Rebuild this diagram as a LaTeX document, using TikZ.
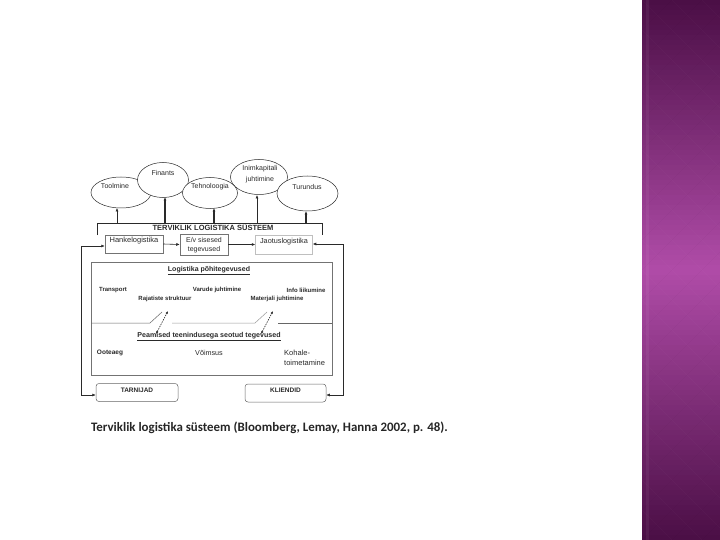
\documentclass[tikz,border=0pt]{standalone}
\usepackage{fontspec}
\setmainfont{Liberation Sans}
\newfontfamily\capfont{Carlito}
\usetikzlibrary{arrows.meta,shapes.geometric}
\definecolor{pTop}{HTML}{4A0E45}
\definecolor{pMid}{HTML}{B04CA8}
\definecolor{ink}{HTML}{2A2A2A}
\begin{document}
\begin{tikzpicture}[x=1pt,y=-1pt,
  ell/.style={draw=ink,fill=white,ellipse,line width=0.5pt,inner sep=0pt,outer sep=0pt},
  lbl/.style={font=\fontsize{7}{8}\selectfont,text=ink,inner sep=0pt,align=center},
  blbl/.style={font=\fontsize{6}{7}\selectfont\bfseries,text=ink,inner sep=0pt},
  rlbl/.style={font=\fontsize{7.2}{8}\selectfont,text=ink,inner sep=0pt,align=left},
  hd/.style={font=\fontsize{7}{8}\selectfont\bfseries,text=ink,inner sep=0pt},
  box/.style={draw=black!55,line width=0.5pt,inner sep=0pt},
  rbox/.style={draw=black!60,line width=0.5pt,rounded corners=3pt,inner sep=0pt},
  arr/.style={draw=ink,line width=0.6pt,-{Latex[length=3.5pt,width=3pt]}},
  tarr/.style={draw=ink,line width=1.1pt,-{Latex[length=3.5pt,width=3pt]}},
  darr/.style={draw=ink,line width=0.6pt,dash pattern=on 1.5pt off 1pt,{Latex[length=3pt,width=2.5pt]}-{Latex[length=3pt,width=2.5pt]}},
  thin/.style={draw=black!60,line width=0.5pt}]
% background
\fill[white] (0,0) rectangle (720,540);
\useasboundingbox (0,0) rectangle (720,540);
% purple band
\foreach \r in {0,...,107}{
  \pgfmathsetmacro{\tt}{100*(1-abs(\r*5+2.5-270)/270)}
  \fill[pMid!\tt!pTop] (642,\r*5) rectangle (720,\r*5+5.4);
}
\begin{scope}
\clip (642,0) rectangle (720,540);
\foreach \k in {-10,...,30}{
  \draw[white,opacity=0.025,line width=0.6pt] (642+\k*30-300,0) -- ++(600,600);
  \draw[black,opacity=0.025,line width=0.6pt] (642+\k*30-300,600) -- ++(600,-600);
}
\fill[white,opacity=0.05] (646,0) rectangle (649,540);
\end{scope}
% ellipses
\node[ell,minimum width=60,minimum height=31] (e1) at (121,192.5) {};
\node[ell,minimum width=51,minimum height=35] (e2) at (163,180) {};
\node[ell,minimum width=57,minimum height=35] (e4) at (259,177) {};
\node[ell,minimum width=55,minimum height=31] (e3) at (210,193) {};
\node[ell,minimum width=61,minimum height=35] (e5) at (307.5,193.5) {};
\node[lbl] (t1) at (115,186) {Toolmine};
\node[lbl] (t2) at (163,173) {Finants};
\node[lbl] (t3) at (210,187) {Tehnoloogia};
\node[lbl,font=\fontsize{7}{11.5}\selectfont] (t4) at (260,174) {Inimkapitali\\juhtimine};
\node[lbl] (t5) at (307,187) {Turundus};
% system bracket
\coordinate (sl) at (97,235);
\coordinate (stl) at (97,223);
\coordinate (str) at (322,223);
\coordinate (sr) at (322,235);
\draw[thin,draw=ink] (sl) -- (stl) -- (str) -- (sr);
\node[font=\fontsize{7.5}{9}\selectfont\bfseries,text=ink,inner sep=0pt] (sys) at (213,227.5) {TERVIKLIK LOGISTIKA SÜSTEEM};
% arrows to ellipses
\coordinate (a1) at (117,223);
\coordinate (a2) at (165,223);
\coordinate (a3) at (214,223);
\coordinate (a4) at (257,223);
\coordinate (a5) at (306,223);
\draw[arr] (a1) -- (117,208);
\draw[tarr] (a2) -- (165,197);
\draw[tarr] (a3) -- (214,208);
\draw[arr] (a4) -- (257,195);
\draw[tarr] (a5) -- (306,211);
% inner boxes
\node[box,minimum width=58,minimum height=18] (hanke) at (134,244) {};
\node[lbl,font=\fontsize{7.5}{8}\selectfont] (hanket) at (134,241) {Hankelogistika};
\node[box,minimum width=48,minimum height=21] (ev) at (204,244.5) {};
\node[lbl,font=\fontsize{7}{9.5}\selectfont] (evt) at (204,245) {E/v sisesed\\tegevused};
\node[box,draw=black!25,minimum width=57,minimum height=19] (jaot) at (284,244.5) {};
\node[lbl,font=\fontsize{7.3}{8}\selectfont] (jaott) at (284,242) {Jaotuslogistika};
\draw[arr] (hanke.east) -- (ev.west);
\draw[arr] (ev.east) -- (jaot.west);
% big box
\node[box,minimum width=241,minimum height=113,anchor=north west] (big) at (91,262) {};
\node[hd] (h1) at (209,270.5) {\underline{Logistika põhitegevused}};
\node[blbl] (l1) at (113,290) {Transport};
\node[blbl] (l2) at (217,290) {Varude juhtimine};
\node[blbl] (l3) at (306,290) {Info liikumine};
\node[blbl] (l4) at (165,298.5) {Rajatiste struktuur};
\node[blbl] (l5) at (277,298.5) {Materjali juhtimine};
% divider
\coordinate (d0) at (91,323);
\coordinate (d1) at (150,323);
\coordinate (d1b) at (162,312);
\coordinate (d2) at (172,323);
\coordinate (d3) at (255,323);
\coordinate (d3b) at (267,312);
\coordinate (d4) at (278,323);
\coordinate (d5) at (332,323);
\draw[thin] (d0) -- (d1) -- (d1b);
\draw[thin,draw=black!40] (d2) -- (d3) -- (d3b);
\draw[thin] (d4) -- (d5);
\coordinate (p1a) at (156,334);
\coordinate (p1b) at (168,311);
\coordinate (p2a) at (261,334);
\coordinate (p2b) at (273,311);
\draw[darr] (p1a) -- (p1b);
\draw[darr] (p2a) -- (p2b);
\node[hd,font=\fontsize{7.1}{8}\selectfont\bfseries] (h2) at (209,336.5) {\underline{Peamised teenindusega seotud tegevused}};
\node[rlbl,font=\fontsize{6.5}{8}\selectfont\bfseries] (o1) at (110,353) {Ooteaeg};
\node[rlbl] (o2) at (209,353) {Võimsus};
\node[rlbl,anchor=west,font=\fontsize{7.5}{10}\selectfont] (o3) at (284,358) {Kohale-\\toimetamine};
% bottom boxes
\node[rbox,minimum width=82,minimum height=18] (tarn) at (137,392.5) {};
\node[blbl,font=\fontsize{6.5}{8}\selectfont\bfseries] (tarnt) at (137,390) {TARNIJAD};
\node[rbox,minimum width=81,minimum height=18] (klie) at (285.5,393) {};
\node[blbl,font=\fontsize{6.5}{8}\selectfont\bfseries] (kliet) at (285.5,390) {KLIENDID};
% feedback loops
\coordinate (lt) at (81,246);
\coordinate (lb) at (81,395);
\draw[arr,{Latex[length=3.5pt,width=3pt]}-{Latex[length=3.5pt,width=3pt]}] (hanke.west |- lt) -- (lt) -- (lb) -- (tarn.west |- lb);
\coordinate (rt) at (343,244);
\coordinate (rb) at (343,395);
\draw[arr,{Latex[length=3.5pt,width=3pt]}-{Latex[length=3.5pt,width=3pt]}] (jaot.east |- rt) -- (rt) -- (rb) -- (klie.east |- rb);
% caption
\node[font=\capfont\fontsize{12.9}{15}\selectfont\bfseries,text=black!85,anchor=west,inner sep=0pt] (cap) at (91,428) {Terviklik logistika süsteem (Bloomberg, Lemay, Hanna 2002, p. 48).};
\end{tikzpicture}
\end{document}
